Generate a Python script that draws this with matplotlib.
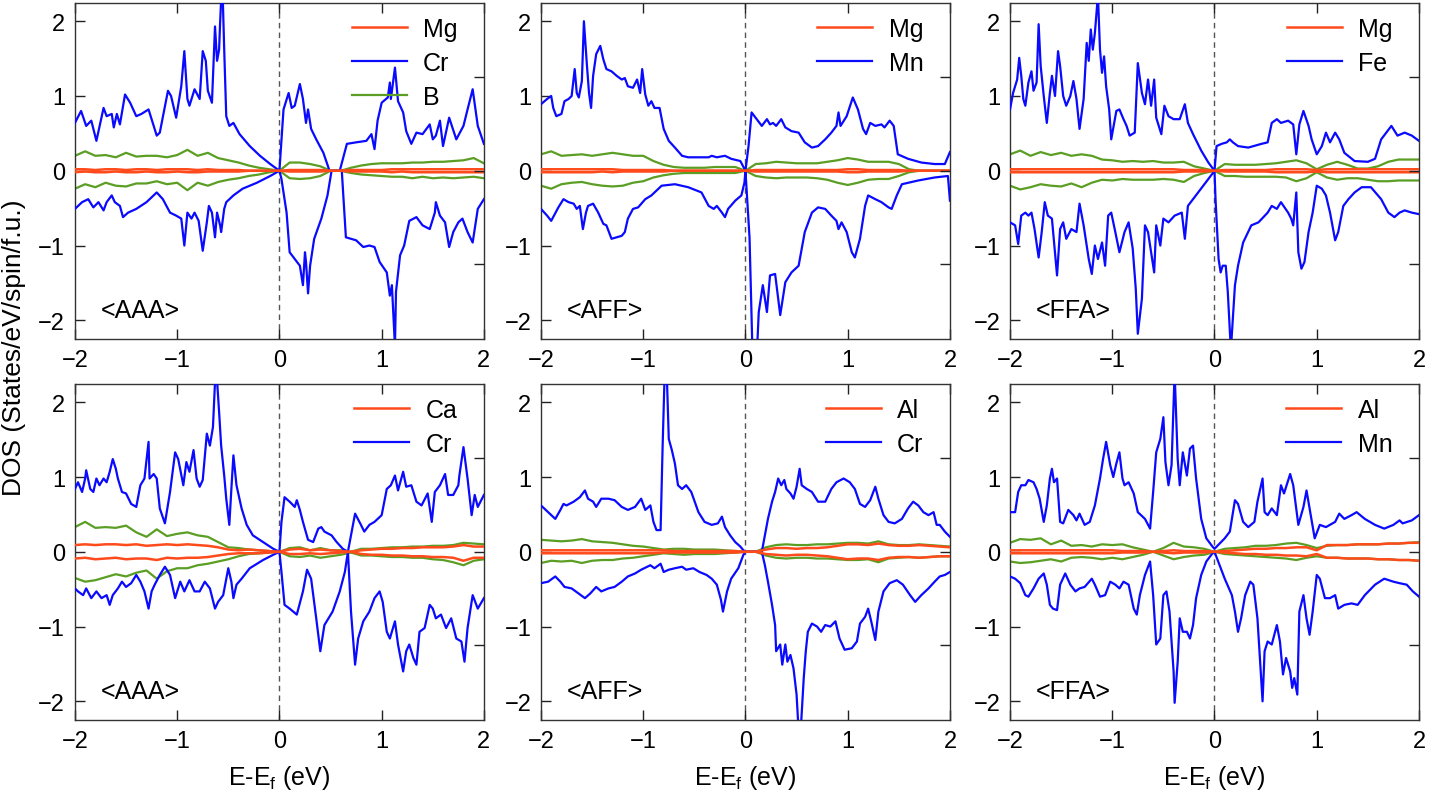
import numpy as np
import matplotlib.pyplot as plt

plt.rcParams['font.family'] = ['Liberation Sans', 'DejaVu Sans']
plt.rcParams['mathtext.fontset'] = 'custom'
plt.rcParams['mathtext.rm'] = 'Liberation Sans'
plt.rcParams['mathtext.it'] = 'Liberation Sans'

RED = '#ff4a1c'
BLUE = '#0a0aff'
GREEN = '#5a9e23'

# shared energy grid for the small (s/p) contributions
e_grid = np.round(np.linspace(-2, 2, 41), 2)

# ---------------- panel 1 : <AAA>, Mg / Cr / B ----------------
p1_up_e = [-2.00, -1.94, -1.89, -1.84, -1.79, -1.72, -1.69, -1.64, -1.62, -1.59,
           -1.56, -1.51, -1.46, -1.40, -1.35, -1.28, -1.20, -1.17, -1.09, -1.06,
           -1.01, -0.96, -0.93, -0.90, -0.88, -0.83, -0.78, -0.75, -0.72, -0.70,
           -0.66, -0.63, -0.61, -0.59, -0.58, -0.56, -0.54, -0.52, -0.49, -0.45,
           -0.39, -0.29, -0.19, -0.09, 0.00,
           0.04, 0.09, 0.12, 0.15, 0.20, 0.23, 0.26, 0.28, 0.31, 0.36,
           0.43, 0.49, 0.59, 0.66, 0.75, 0.85, 0.90, 0.93, 0.96, 1.00,
           1.06, 1.08, 1.09, 1.13, 1.16, 1.21, 1.24, 1.29, 1.34, 1.40,
           1.47, 1.50, 1.53, 1.57, 1.60, 1.66, 1.73, 1.80, 1.84, 1.89,
           1.94, 2.00]
p1_up = [0.64, 0.80, 0.60, 0.67, 0.40, 0.84, 0.73, 0.76, 0.58, 0.76,
         0.62, 1.02, 0.91, 0.73, 0.76, 0.82, 0.47, 0.51, 1.07, 1.00,
         0.71, 1.13, 1.60, 0.96, 0.87, 1.09, 0.96, 1.60, 1.47, 1.07,
         0.91, 1.93, 1.47, 1.62, 1.98, 2.60, 1.62, 0.73, 0.60, 0.64,
         0.49, 0.33, 0.20, 0.09, 0.00,
         0.82, 1.04, 0.84, 0.87, 1.16, 0.96, 0.64, 0.82, 0.56, 0.42,
         0.24, 0.00, 0.00, 0.36, 0.38, 0.40, 0.49, 0.29, 0.67, 0.91,
         0.98, 1.18, 0.96, 1.38, 0.93, 0.78, 0.53, 0.36, 0.51, 0.49,
         0.62, 0.42, 0.47, 0.67, 0.33, 0.71, 0.42, 0.60, 0.82, 1.09,
         0.60, 0.36]
p1_dn_e = [-2.00, -1.93, -1.87, -1.82, -1.77, -1.72, -1.69, -1.64, -1.61, -1.56,
           -1.53, -1.48, -1.40, -1.30, -1.20, -1.14, -1.07, -1.01, -0.96, -0.93,
           -0.90, -0.86, -0.83, -0.79, -0.75, -0.71, -0.69, -0.66, -0.63, -0.61,
           -0.58, -0.57, -0.54, -0.52, -0.45, -0.36, -0.22, -0.09, 0.00,
           0.02, 0.07, 0.10, 0.15, 0.20, 0.23, 0.25, 0.26, 0.28, 0.30,
           0.34, 0.41, 0.47, 0.51, 0.61, 0.65, 0.75, 0.82, 0.88, 0.93,
           0.98, 1.05, 1.08, 1.10, 1.13, 1.14, 1.18, 1.22, 1.27, 1.34,
           1.40, 1.47, 1.52, 1.53, 1.57, 1.62, 1.66, 1.70, 1.75, 1.79,
           1.84, 1.89, 1.94, 2.00]
p1_dn = [-0.51, -0.42, -0.38, -0.49, -0.42, -0.53, -0.42, -0.33, -0.42, -0.47,
         -0.62, -0.56, -0.51, -0.42, -0.29, -0.38, -0.56, -0.60, -0.64, -1.00,
         -0.56, -0.64, -0.56, -0.67, -1.07, -0.69, -0.47, -0.56, -0.89, -0.56,
         -0.73, -0.82, -0.51, -0.42, -0.33, -0.24, -0.16, -0.07, 0.00,
         -0.11, -0.56, -1.09, -1.18, -1.27, -1.53, -1.09, -1.22, -1.64, -1.27,
         -0.91, -0.64, -0.33, 0.00, 0.00, -0.89, -0.93, -1.02, -1.00, -1.02,
         -1.22, -1.36, -1.67, -1.53, -2.35, -1.62, -1.13, -1.00, -0.67, -0.62,
         -0.73, -0.78, -0.56, -0.42, -0.60, -0.69, -1.02, -0.82, -0.69, -0.64,
         -0.82, -0.96, -0.51, -0.38]
p1_b_up = [0.20, 0.26, 0.20, 0.21, 0.18, 0.24, 0.19, 0.20, 0.20, 0.18,
           0.21, 0.28, 0.20, 0.24, 0.17, 0.14, 0.11, 0.07, 0.04, 0.02,
           0.00, 0.11, 0.11, 0.09, 0.06, 0.00, 0.00, 0.04, 0.07, 0.09,
           0.10, 0.10, 0.10, 0.11, 0.11, 0.12, 0.12, 0.13, 0.14, 0.17, 0.10]
p1_b_dn = [-0.24, -0.18, -0.22, -0.16, -0.20, -0.21, -0.17, -0.17, -0.14, -0.18,
           -0.16, -0.26, -0.16, -0.20, -0.15, -0.12, -0.10, -0.07, -0.05, -0.02,
           0.00, -0.10, -0.11, -0.10, -0.07, 0.00, 0.00, -0.03, -0.05, -0.06,
           -0.07, -0.08, -0.08, -0.10, -0.08, -0.10, -0.09, -0.10, -0.09, -0.08, -0.10]
p1_a_up = [0.02, 0.02, 0.01, 0.02, 0.02, 0.01, 0.02, 0.02, 0.01, 0.02,
           0.02, 0.02, 0.01, 0.02, 0.01, 0.01, 0.01, 0.00, 0.00, 0.00,
           0.00, 0.01, 0.01, 0.01, 0.01, 0.00, 0.00, 0.01, 0.01, 0.01,
           0.01, 0.02, 0.02, 0.02, 0.02, 0.02, 0.02, 0.02, 0.02, 0.02, 0.02]
p1_a_dn = [-0.02, -0.01, -0.02, -0.02, -0.01, -0.02, -0.02, -0.01, -0.02, -0.02,
           -0.01, -0.02, -0.02, -0.01, -0.01, -0.01, -0.01, 0.00, 0.00, 0.00,
           0.00, -0.01, -0.01, -0.01, -0.01, 0.00, 0.00, -0.01, -0.01, -0.01,
           -0.01, -0.02, -0.01, -0.02, -0.02, -0.02, -0.02, -0.02, -0.02, -0.02, -0.02]

# ---------------- panel 2 : <AFF>, Mg / Mn ----------------
p2_up_e = [-2.00, -1.94, -1.90, -1.88, -1.85, -1.80, -1.77, -1.73, -1.70, -1.67,
           -1.65, -1.63, -1.60, -1.58, -1.55, -1.53, -1.51, -1.49, -1.46, -1.42,
           -1.39, -1.36, -1.31, -1.26, -1.21, -1.18, -1.15, -1.10, -1.06, -1.03,
           -1.01, -0.98, -0.95, -0.92, -0.89, -0.84, -0.80, -0.75, -0.69, -0.62,
           -0.56, -0.46, -0.36, -0.33, -0.28, -0.20, -0.14, -0.05, 0.00,
           0.03, 0.06, 0.11, 0.16, 0.21, 0.24, 0.27, 0.30, 0.35, 0.39,
           0.45, 0.52, 0.58, 0.65, 0.71, 0.78, 0.84, 0.89, 0.91, 0.93,
           0.99, 1.05, 1.10, 1.15, 1.18, 1.22, 1.27, 1.33, 1.36, 1.41,
           1.45, 1.49, 1.59, 1.72, 1.85, 1.95, 2.00]
p2_up = [0.89, 0.96, 1.00, 0.84, 0.73, 0.76, 0.93, 0.96, 1.00, 1.36,
         1.04, 0.98, 1.20, 2.00, 1.40, 1.04, 0.84, 1.27, 1.56, 1.67,
         1.49, 1.36, 1.33, 1.27, 1.22, 1.24, 1.13, 1.11, 1.22, 1.04,
         1.36, 1.02, 0.87, 0.93, 0.84, 0.84, 0.56, 0.40, 0.31, 0.20,
         0.18, 0.18, 0.18, 0.20, 0.18, 0.20, 0.16, 0.13, 0.00,
         0.33, 0.78, 0.69, 0.60, 0.69, 0.62, 0.64, 0.60, 0.69, 0.58,
         0.53, 0.51, 0.38, 0.31, 0.33, 0.42, 0.51, 0.60, 0.78, 0.60,
         0.73, 0.98, 0.82, 0.56, 0.49, 0.64, 0.60, 0.62, 0.58, 0.67,
         0.60, 0.22, 0.16, 0.11, 0.09, 0.09, 0.25]
p2_dn_e = [-2.00, -1.94, -1.90, -1.83, -1.78, -1.73, -1.68, -1.65, -1.62, -1.59,
           -1.56, -1.54, -1.49, -1.44, -1.39, -1.36, -1.31, -1.26, -1.21, -1.18,
           -1.15, -1.10, -1.05, -0.98, -0.92, -0.82, -0.69, -0.56, -0.43, -0.36,
           -0.31, -0.28, -0.23, -0.20, -0.17, -0.10, -0.04, -0.01, 0.00,
           0.04, 0.07, 0.11, 0.13, 0.17, 0.21, 0.24, 0.29, 0.34, 0.39,
           0.45, 0.52, 0.58, 0.65, 0.71, 0.78, 0.84, 0.89, 0.91, 0.94,
           0.99, 1.04, 1.07, 1.12, 1.17, 1.20, 1.27, 1.33, 1.40, 1.43,
           1.48, 1.53, 1.69, 1.85, 1.98, 2.00]
p2_dn = [-0.51, -0.60, -0.67, -0.49, -0.38, -0.42, -0.44, -0.51, -0.47, -0.78,
         -0.56, -0.47, -0.44, -0.56, -0.71, -0.73, -0.91, -0.89, -0.87, -0.82,
         -0.64, -0.51, -0.49, -0.38, -0.33, -0.20, -0.18, -0.22, -0.29, -0.47,
         -0.51, -0.47, -0.56, -0.62, -0.51, -0.40, -0.33, -0.16, 0.00,
         -0.90, -2.50, -2.50, -1.89, -1.53, -1.89, -1.40, -1.38, -1.93, -1.49,
         -1.36, -1.27, -0.82, -0.56, -0.49, -0.51, -0.60, -0.67, -0.78, -0.69,
         -0.82, -1.09, -1.16, -0.91, -0.47, -0.33, -0.38, -0.42, -0.49, -0.51,
         -0.33, -0.18, -0.13, -0.09, -0.07, -0.40]
p2_b_up = [0.22, 0.26, 0.20, 0.21, 0.22, 0.20, 0.22, 0.24, 0.22, 0.20,
           0.20, 0.13, 0.08, 0.05, 0.04, 0.04, 0.04, 0.05, 0.05, 0.05,
           0.00, 0.09, 0.10, 0.12, 0.11, 0.10, 0.10, 0.10, 0.12, 0.14,
           0.17, 0.15, 0.12, 0.12, 0.12, 0.09, 0.02, 0.00, 0.00, 0.00, 0.00]
p2_b_dn = [-0.20, -0.24, -0.18, -0.16, -0.15, -0.18, -0.20, -0.21, -0.20, -0.16,
           -0.14, -0.09, -0.06, -0.04, -0.03, -0.03, -0.03, -0.03, -0.03, -0.03,
           0.00, -0.07, -0.09, -0.10, -0.09, -0.09, -0.09, -0.10, -0.12, -0.16,
           -0.19, -0.16, -0.12, -0.11, -0.11, -0.07, -0.02, 0.00, 0.00, 0.00, 0.00]
p2_a_up = [0.02, 0.02, 0.02, 0.02, 0.02, 0.02, 0.02, 0.02, 0.01, 0.01,
           0.01, 0.01, 0.01, 0.00, 0.00, 0.00, 0.00, 0.00, 0.00, 0.00,
           0.00, 0.01, 0.01, 0.01, 0.01, 0.01, 0.01, 0.01, 0.01, 0.01,
           0.02, 0.02, 0.01, 0.01, 0.01, 0.01, 0.00, 0.00, 0.00, 0.00, 0.00]
p2_a_dn = [-0.02, -0.02, -0.02, -0.02, -0.02, -0.02, -0.01, -0.02, -0.01, -0.01,
           -0.01, -0.01, -0.01, 0.00, 0.00, 0.00, 0.00, 0.00, 0.00, 0.00,
           0.00, -0.01, -0.01, -0.01, -0.01, -0.01, -0.01, -0.01, -0.01, -0.01,
           -0.02, -0.02, -0.01, -0.01, -0.01, -0.01, 0.00, 0.00, 0.00, 0.00, 0.00]

# ---------------- panel 3 : <FFA>, Mg / Fe ----------------
p3_up_e = [-2.00, -1.97, -1.93, -1.91, -1.89, -1.87, -1.85, -1.82, -1.79, -1.77,
           -1.74, -1.72, -1.70, -1.67, -1.64, -1.61, -1.59, -1.56, -1.53, -1.51,
           -1.48, -1.45, -1.41, -1.38, -1.35, -1.32, -1.28, -1.25, -1.23, -1.21,
           -1.19, -1.17, -1.14, -1.12, -1.10, -1.08, -1.06, -1.03, -1.01, -0.96,
           -0.93, -0.89, -0.86, -0.83, -0.78, -0.75, -0.71, -0.68, -0.65, -0.62,
           -0.59, -0.57, -0.52, -0.49, -0.45, -0.40, -0.34, -0.29, -0.26, -0.21,
           -0.13, -0.06, 0.00,
           0.02, 0.07, 0.12, 0.15, 0.18, 0.23, 0.33, 0.46, 0.52, 0.56,
           0.61, 0.65, 0.72, 0.77, 0.80, 0.83, 0.87, 0.92, 0.95, 1.00,
           1.05, 1.09, 1.13, 1.18, 1.22, 1.27, 1.37, 1.50, 1.57, 1.63,
           1.73, 1.79, 1.86, 1.93, 2.00]
p3_up = [0.82, 1.04, 1.22, 1.51, 1.27, 0.96, 0.87, 1.18, 1.33, 1.07,
         1.18, 1.96, 1.40, 1.00, 0.64, 1.04, 1.27, 1.00, 1.60, 1.40,
         1.00, 0.87, 1.00, 1.20, 0.96, 0.56, 0.96, 1.71, 1.47, 1.89,
         1.62, 1.84, 2.35, 1.62, 1.31, 1.53, 1.13, 0.82, 0.42, 0.80,
         0.82, 0.69, 0.60, 0.47, 0.51, 1.44, 1.04, 0.89, 1.22, 0.87,
         1.22, 0.71, 0.49, 0.87, 0.73, 0.69, 0.69, 0.89, 0.64, 0.49,
         0.27, 0.11, 0.00,
         0.33, 0.36, 0.38, 0.42, 0.38, 0.33, 0.31, 0.36, 0.38, 0.64,
         0.69, 0.64, 0.67, 0.62, 0.22, 0.62, 0.80, 0.60, 0.42, 0.22,
         0.33, 0.51, 0.38, 0.51, 0.42, 0.24, 0.13, 0.12, 0.16, 0.42,
         0.60, 0.47, 0.51, 0.47, 0.40]
p3_dn_e = [-2.00, -1.95, -1.92, -1.89, -1.85, -1.82, -1.79, -1.76, -1.72, -1.69,
           -1.66, -1.63, -1.59, -1.54, -1.51, -1.48, -1.45, -1.40, -1.35, -1.32,
           -1.28, -1.23, -1.20, -1.17, -1.14, -1.10, -1.07, -1.04, -1.01, -0.97,
           -0.93, -0.88, -0.84, -0.80, -0.77, -0.75, -0.71, -0.68, -0.65, -0.62,
           -0.59, -0.57, -0.53, -0.50, -0.45, -0.39, -0.32, -0.29, -0.26, -0.16,
           -0.06, 0.00,
           0.01, 0.04, 0.06, 0.08, 0.11, 0.13, 0.16, 0.20, 0.23, 0.28,
           0.36, 0.43, 0.52, 0.56, 0.61, 0.65, 0.72, 0.75, 0.77, 0.80,
           0.82, 0.85, 0.88, 0.92, 0.96, 1.00, 1.05, 1.09, 1.13, 1.18,
           1.21, 1.26, 1.31, 1.37, 1.44, 1.53, 1.63, 1.70, 1.76, 1.81,
           1.86, 1.93, 2.00]
p3_dn = [-0.69, -0.73, -0.98, -0.60, -0.56, -0.60, -0.56, -0.78, -1.16, -0.82,
         -0.42, -0.60, -0.64, -1.40, -0.78, -0.69, -0.91, -0.78, -0.82, -0.44,
         -0.73, -1.18, -1.38, -1.00, -1.18, -0.96, -1.27, -0.60, -0.56, -0.82,
         -1.09, -0.82, -0.69, -1.04, -1.58, -2.18, -1.71, -0.73, -0.82, -1.09,
         -1.36, -0.73, -1.00, -0.64, -0.69, -0.60, -0.56, -0.91, -0.47, -0.29,
         -0.11, 0.00,
         -0.38, -1.18, -1.36, -1.27, -1.27, -1.62, -2.40, -1.53, -1.27, -0.96,
         -0.73, -0.69, -0.56, -0.47, -0.51, -0.42, -0.56, -0.64, -0.73, -0.29,
         -1.09, -1.31, -1.22, -0.82, -0.56, -0.20, -0.24, -0.33, -0.56, -0.93,
         -0.82, -0.47, -0.38, -0.29, -0.22, -0.22, -0.38, -0.56, -0.62, -0.56,
         -0.53, -0.56, -0.58]
p3_b_up = [0.22, 0.27, 0.20, 0.25, 0.21, 0.24, 0.20, 0.22, 0.20, 0.15,
           0.14, 0.12, 0.13, 0.12, 0.13, 0.11, 0.11, 0.12, 0.06, 0.03,
           0.00, 0.09, 0.08, 0.08, 0.08, 0.09, 0.10, 0.12, 0.14, 0.10,
           0.02, 0.08, 0.12, 0.08, 0.03, 0.03, 0.06, 0.12, 0.15, 0.15, 0.15]
p3_b_dn = [-0.20, -0.25, -0.22, -0.18, -0.20, -0.21, -0.17, -0.22, -0.16, -0.12,
           -0.13, -0.11, -0.12, -0.12, -0.12, -0.11, -0.12, -0.15, -0.07, -0.03,
           0.00, -0.07, -0.07, -0.08, -0.08, -0.08, -0.08, -0.09, -0.14, -0.10,
           -0.02, -0.09, -0.12, -0.10, -0.10, -0.12, -0.14, -0.14, -0.13, -0.13, -0.13]
p3_a_up = [0.02, 0.02, 0.02, 0.02, 0.02, 0.02, 0.02, 0.02, 0.02, 0.02,
           0.02, 0.02, 0.02, 0.02, 0.02, 0.02, 0.02, 0.01, 0.01, 0.01,
           0.00, 0.01, 0.01, 0.01, 0.01, 0.01, 0.02, 0.02, 0.02, 0.02,
           0.01, 0.02, 0.02, 0.02, 0.02, 0.02, 0.02, 0.02, 0.02, 0.02, 0.02]
p3_a_dn = [-0.02, -0.02, -0.02, -0.02, -0.02, -0.02, -0.02, -0.02, -0.02, -0.02,
           -0.02, -0.02, -0.02, -0.02, -0.02, -0.02, -0.02, -0.01, -0.01, -0.01,
           0.00, -0.01, -0.01, -0.01, -0.01, -0.01, -0.02, -0.02, -0.02, -0.02,
           -0.01, -0.02, -0.02, -0.02, -0.02, -0.02, -0.02, -0.02, -0.02, -0.02, -0.02]

# ---------------- panel 4 : <AAA>, Ca / Cr ----------------
p4_up_e = [-2.00, -1.97, -1.93, -1.90, -1.89, -1.85, -1.82, -1.79, -1.76, -1.72,
           -1.69, -1.66, -1.63, -1.60, -1.58, -1.54, -1.50, -1.45, -1.40, -1.36,
           -1.32, -1.28, -1.27, -1.23, -1.20, -1.17, -1.12, -1.07, -1.02, -0.99,
           -0.94, -0.91, -0.88, -0.84, -0.81, -0.78, -0.75, -0.71, -0.68, -0.65,
           -0.63, -0.62, -0.59, -0.57, -0.54, -0.52, -0.49, -0.47, -0.45, -0.42,
           -0.37, -0.32, -0.26, -0.16, -0.06, 0.00,
           0.02, 0.05, 0.10, 0.15, 0.17, 0.20, 0.23, 0.28, 0.33, 0.38,
           0.41, 0.44, 0.51, 0.56, 0.62, 0.67, 0.70, 0.74, 0.79, 0.83,
           0.88, 0.93, 1.00, 1.05, 1.09, 1.13, 1.16, 1.21, 1.24, 1.29,
           1.34, 1.39, 1.45, 1.49, 1.52, 1.57, 1.62, 1.65, 1.70, 1.75,
           1.76, 1.80, 1.84, 1.88, 1.91, 1.94, 2.00]
p4_up = [0.84, 0.93, 0.80, 0.98, 1.09, 0.84, 0.80, 0.98, 0.89, 0.98,
         0.93, 1.07, 1.24, 1.11, 0.98, 0.80, 0.78, 0.64, 0.60, 0.89,
         0.98, 1.47, 0.98, 1.04, 0.98, 0.58, 0.38, 0.80, 1.33, 1.24,
         0.89, 1.20, 1.07, 1.36, 0.98, 0.87, 0.96, 1.58, 1.42, 1.67,
         2.27, 2.50, 1.87, 1.42, 1.02, 0.71, 0.36, 0.84, 1.29, 0.89,
         0.58, 0.36, 0.22, 0.13, 0.04, 0.00,
         0.40, 0.73, 0.67, 0.60, 0.69, 0.56, 0.40, 0.16, 0.13, 0.31,
         0.33, 0.27, 0.22, 0.13, 0.04, 0.00, 0.22, 0.51, 0.38, 0.27,
         0.36, 0.40, 0.49, 0.84, 0.89, 1.02, 0.82, 1.07, 0.87, 0.89,
         0.67, 0.62, 0.78, 0.40, 0.80, 0.89, 1.04, 0.76, 0.76, 0.89,
         1.02, 1.40, 0.98, 0.49, 0.76, 0.60, 0.76]
p4_dn_e = [-2.00, -1.97, -1.92, -1.89, -1.84, -1.79, -1.74, -1.69, -1.66, -1.63,
           -1.58, -1.54, -1.50, -1.45, -1.40, -1.36, -1.32, -1.28, -1.25, -1.22,
           -1.17, -1.12, -1.07, -1.02, -0.97, -0.93, -0.88, -0.83, -0.78, -0.73,
           -0.68, -0.63, -0.60, -0.55, -0.50, -0.47, -0.45, -0.42, -0.37, -0.29,
           -0.16, -0.06, 0.00,
           0.02, 0.05, 0.10, 0.17, 0.23, 0.27, 0.31, 0.36, 0.40, 0.44,
           0.52, 0.59, 0.64, 0.67, 0.70, 0.74, 0.77, 0.82, 0.88, 0.93,
           0.98, 1.01, 1.05, 1.08, 1.13, 1.16, 1.21, 1.24, 1.27, 1.31,
           1.34, 1.37, 1.42, 1.47, 1.50, 1.53, 1.58, 1.63, 1.68, 1.73,
           1.78, 1.81, 1.84, 1.89, 1.94, 2.00]
p4_dn = [-0.49, -0.53, -0.58, -0.49, -0.62, -0.53, -0.62, -0.58, -0.71, -0.58,
         -0.49, -0.40, -0.47, -0.42, -0.31, -0.40, -0.53, -0.76, -0.53, -0.44,
         -0.31, -0.20, -0.31, -0.62, -0.40, -0.53, -0.38, -0.53, -0.53, -0.40,
         -0.49, -0.76, -0.67, -0.58, -0.22, -0.40, -0.62, -0.44, -0.36, -0.22,
         -0.11, -0.04, 0.00,
         -0.27, -0.71, -0.76, -0.84, -0.53, -0.24, -0.36, -0.89, -1.33, -0.98,
         -0.80, -0.53, -0.27, 0.00, -0.80, -1.51, -1.16, -0.93, -0.80, -0.62,
         -0.53, -0.67, -1.07, -1.16, -0.93, -1.24, -1.60, -1.33, -1.24, -1.42,
         -1.51, -1.07, -1.02, -0.71, -0.76, -0.89, -0.84, -1.02, -0.89, -1.16,
         -1.20, -1.47, -1.02, -0.58, -0.76, -0.62]
p4_b_up = [0.33, 0.40, 0.32, 0.33, 0.32, 0.35, 0.26, 0.20, 0.30, 0.21,
           0.24, 0.26, 0.22, 0.20, 0.13, 0.06, 0.05, 0.03, 0.02, 0.01,
           0.00, 0.05, 0.06, 0.02, 0.05, 0.02, 0.02, 0.00, 0.04, 0.04,
           0.05, 0.06, 0.06, 0.07, 0.07, 0.08, 0.08, 0.09, 0.12, 0.11, 0.10]
p4_b_dn = [-0.35, -0.40, -0.38, -0.34, -0.30, -0.33, -0.28, -0.25, -0.36, -0.26,
           -0.22, -0.22, -0.18, -0.16, -0.13, -0.10, -0.06, -0.03, -0.02, -0.01,
           0.00, -0.06, -0.07, -0.05, -0.08, -0.06, -0.04, -0.01, -0.05, -0.05,
           -0.06, -0.07, -0.07, -0.08, -0.08, -0.10, -0.11, -0.14, -0.18, -0.12, -0.10]
p4_a_up = [0.09, 0.10, 0.09, 0.10, 0.10, 0.09, 0.10, 0.08, 0.09, 0.10,
           0.09, 0.10, 0.09, 0.08, 0.06, 0.03, 0.02, 0.03, 0.02, 0.01,
           0.00, 0.03, 0.04, 0.02, 0.03, 0.02, 0.01, 0.00, 0.02, 0.03,
           0.04, 0.04, 0.05, 0.05, 0.06, 0.06, 0.06, 0.07, 0.09, 0.07, 0.07]
p4_a_dn = [-0.09, -0.08, -0.10, -0.09, -0.08, -0.10, -0.09, -0.09, -0.11, -0.08,
           -0.09, -0.08, -0.08, -0.07, -0.05, -0.03, -0.02, -0.02, -0.02, -0.01,
           0.00, -0.03, -0.03, -0.02, -0.03, -0.02, -0.01, 0.00, -0.03, -0.04,
           -0.04, -0.05, -0.05, -0.06, -0.06, -0.07, -0.07, -0.08, -0.12, -0.08, -0.08]

# ---------------- panel 5 : <AFF>, Al / Cr ----------------
p5_up_e = [-2.00, -1.93, -1.86, -1.81, -1.78, -1.75, -1.68, -1.62, -1.57, -1.54,
           -1.49, -1.46, -1.41, -1.34, -1.28, -1.21, -1.15, -1.08, -1.02, -0.98,
           -0.93, -0.90, -0.87, -0.83, -0.81, -0.79, -0.77, -0.75, -0.72, -0.69,
           -0.66, -0.62, -0.58, -0.53, -0.46, -0.40, -0.33, -0.27, -0.23, -0.20,
           -0.15, -0.10, -0.05, -0.02, 0.00,
           0.16, 0.19, 0.22, 0.26, 0.29, 0.32, 0.35, 0.38, 0.40, 0.44,
           0.47, 0.50, 0.53, 0.55, 0.60, 0.65, 0.71, 0.78, 0.84, 0.89,
           0.96, 1.02, 1.07, 1.12, 1.17, 1.22, 1.27, 1.30, 1.35, 1.40,
           1.46, 1.53, 1.59, 1.64, 1.69, 1.74, 1.79, 1.84, 1.87, 1.90,
           1.95, 2.00]
p5_up = [0.62, 0.53, 0.44, 0.56, 0.64, 0.62, 0.67, 0.73, 0.82, 0.71,
         0.67, 0.60, 0.71, 0.71, 0.69, 0.60, 0.56, 0.60, 0.71, 0.56,
         0.62, 0.40, 0.29, 0.29, 1.42, 2.40, 2.40, 1.51, 1.36, 1.18,
         0.89, 0.84, 0.89, 0.80, 0.53, 0.40, 0.36, 0.38, 0.47, 0.33,
         0.22, 0.13, 0.07, 0.02, 0.00,
         0.00, 0.22, 0.44, 0.67, 0.80, 0.98, 0.89, 0.96, 0.84, 0.78,
         0.71, 0.87, 1.11, 0.89, 0.84, 0.80, 0.67, 0.67, 0.84, 0.93,
         0.98, 0.93, 0.84, 0.64, 0.60, 0.69, 0.87, 0.71, 0.49, 0.40,
         0.38, 0.44, 0.58, 0.67, 0.62, 0.53, 0.49, 0.53, 0.36, 0.36,
         0.27, 0.20]
p5_dn_e = [-2.00, -1.93, -1.86, -1.81, -1.77, -1.70, -1.63, -1.57, -1.52, -1.46,
           -1.41, -1.34, -1.28, -1.21, -1.15, -1.08, -1.02, -0.93, -0.89, -0.83,
           -0.80, -0.75, -0.69, -0.62, -0.58, -0.51, -0.45, -0.38, -0.33, -0.28,
           -0.24, -0.22, -0.18, -0.14, -0.07, -0.02, 0.00,
           0.16, 0.19, 0.22, 0.26, 0.29, 0.30, 0.34, 0.36, 0.39, 0.41,
           0.44, 0.47, 0.50, 0.52, 0.54, 0.57, 0.59, 0.61, 0.65, 0.70,
           0.74, 0.78, 0.83, 0.88, 0.92, 0.97, 1.04, 1.09, 1.12, 1.17,
           1.20, 1.23, 1.27, 1.30, 1.35, 1.41, 1.48, 1.54, 1.61, 1.66,
           1.72, 1.79, 1.85, 1.90, 1.95, 2.00]
p5_dn = [-0.42, -0.40, -0.33, -0.40, -0.47, -0.49, -0.56, -0.62, -0.56, -0.47,
         -0.53, -0.49, -0.47, -0.40, -0.33, -0.29, -0.24, -0.18, -0.22, -0.16,
         -0.27, -0.24, -0.22, -0.20, -0.24, -0.22, -0.27, -0.31, -0.36, -0.44,
         -0.64, -0.80, -0.53, -0.36, -0.22, -0.04, 0.00,
         0.00, -0.18, -0.40, -0.71, -0.98, -1.33, -1.24, -1.51, -1.24, -1.47,
         -1.38, -1.56, -1.91, -2.40, -2.40, -1.69, -1.33, -1.07, -0.96, -1.00,
         -1.07, -0.98, -1.00, -0.93, -1.16, -1.31, -1.29, -1.20, -0.96, -0.87,
         -0.76, -0.93, -1.18, -0.80, -0.53, -0.42, -0.38, -0.44, -0.58, -0.67,
         -0.58, -0.49, -0.40, -0.33, -0.31, -0.27]
p5_b_up = [0.16, 0.15, 0.14, 0.15, 0.17, 0.14, 0.13, 0.12, 0.10, 0.08,
           0.07, 0.05, 0.03, 0.04, 0.04, 0.03, 0.03, 0.03, 0.02, 0.01,
           0.00, 0.00, 0.06, 0.09, 0.10, 0.09, 0.09, 0.10, 0.10, 0.11,
           0.12, 0.12, 0.11, 0.14, 0.10, 0.09, 0.09, 0.10, 0.09, 0.08, 0.07]
p5_b_dn = [-0.15, -0.12, -0.13, -0.12, -0.15, -0.12, -0.11, -0.11, -0.09, -0.08,
           -0.06, -0.04, -0.02, -0.03, -0.04, -0.03, -0.03, -0.03, -0.02, -0.01,
           0.00, 0.00, -0.05, -0.08, -0.09, -0.08, -0.08, -0.09, -0.09, -0.10,
           -0.11, -0.11, -0.10, -0.14, -0.09, -0.08, -0.07, -0.08, -0.07, -0.06, -0.06]
p5_a_up = [0.02, 0.02, 0.02, 0.02, 0.02, 0.02, 0.02, 0.02, 0.02, 0.02,
           0.02, 0.02, 0.02, 0.01, 0.01, 0.01, 0.01, 0.01, 0.01, 0.01,
           0.00, 0.00, 0.03, 0.05, 0.05, 0.04, 0.05, 0.05, 0.06, 0.08,
           0.10, 0.10, 0.09, 0.11, 0.09, 0.08, 0.08, 0.09, 0.08, 0.07, 0.06]
p5_a_dn = [-0.02, -0.02, -0.02, -0.02, -0.02, -0.02, -0.02, -0.02, -0.02, -0.02,
           -0.02, -0.02, -0.01, -0.01, -0.01, -0.01, -0.01, -0.01, -0.01, -0.01,
           0.00, 0.00, -0.03, -0.04, -0.05, -0.04, -0.04, -0.05, -0.06, -0.08,
           -0.10, -0.09, -0.09, -0.11, -0.08, -0.07, -0.07, -0.08, -0.07, -0.06, -0.06]

# ---------------- panel 6 : <FFA>, Al / Mn ----------------
p6_up_e = [-2.00, -1.95, -1.92, -1.89, -1.85, -1.82, -1.77, -1.74, -1.71, -1.67,
           -1.64, -1.61, -1.59, -1.57, -1.54, -1.51, -1.48, -1.43, -1.38, -1.35,
           -1.32, -1.27, -1.22, -1.17, -1.12, -1.09, -1.06, -1.02, -0.99, -0.96,
           -0.93, -0.90, -0.88, -0.84, -0.79, -0.75, -0.68, -0.63, -0.60, -0.57,
           -0.53, -0.50, -0.48, -0.45, -0.42, -0.39, -0.36, -0.34, -0.31, -0.27,
           -0.24, -0.21, -0.18, -0.13, -0.08, -0.02, 0.00,
           0.05, 0.10, 0.15, 0.20, 0.23, 0.28, 0.33, 0.39, 0.42, 0.47,
           0.49, 0.52, 0.56, 0.61, 0.65, 0.68, 0.74, 0.77, 0.82, 0.87,
           0.90, 0.93, 0.98, 1.03, 1.09, 1.18, 1.22, 1.27, 1.34, 1.39,
           1.47, 1.57, 1.66, 1.75, 1.81, 1.84, 1.93, 2.00]
p6_up = [0.53, 0.53, 0.80, 0.89, 0.89, 0.96, 0.93, 0.84, 0.71, 0.40,
         0.62, 0.98, 1.11, 0.93, 0.98, 0.40, 0.38, 0.56, 0.49, 0.42,
         0.51, 0.36, 0.40, 0.62, 0.98, 1.24, 1.47, 1.16, 1.00, 1.18,
         1.33, 0.98, 0.89, 0.93, 0.78, 0.53, 0.44, 0.31, 0.80, 1.33,
         1.51, 1.80, 1.20, 0.89, 1.16, 2.40, 1.24, 0.89, 1.33, 1.02,
         1.38, 1.42, 0.98, 0.44, 0.18, 0.07, 0.04,
         0.11, 0.18, 0.27, 0.69, 0.64, 0.40, 0.33, 0.40, 0.67, 0.98,
         0.53, 0.49, 0.58, 0.49, 0.89, 0.78, 1.04, 0.89, 0.36, 0.60,
         0.82, 0.58, 0.18, 0.36, 0.33, 0.40, 0.51, 0.44, 0.49, 0.53,
         0.44, 0.36, 0.31, 0.36, 0.42, 0.38, 0.42, 0.49]
p6_dn_e = [-2.00, -1.95, -1.90, -1.85, -1.82, -1.77, -1.72, -1.67, -1.64, -1.61,
           -1.58, -1.54, -1.51, -1.46, -1.41, -1.36, -1.32, -1.27, -1.20, -1.17,
           -1.12, -1.07, -1.02, -0.97, -0.93, -0.89, -0.84, -0.79, -0.76, -0.73,
           -0.68, -0.63, -0.60, -0.57, -0.53, -0.50, -0.47, -0.44, -0.40, -0.39,
           -0.36, -0.34, -0.31, -0.27, -0.24, -0.21, -0.18, -0.13, -0.08, -0.02,
           0.00,
           0.05, 0.10, 0.17, 0.20, 0.23, 0.26, 0.30, 0.35, 0.38, 0.42,
           0.47, 0.49, 0.52, 0.56, 0.61, 0.64, 0.67, 0.70, 0.74, 0.76,
           0.78, 0.81, 0.83, 0.87, 0.90, 0.93, 0.96, 1.00, 1.03, 1.08,
           1.13, 1.18, 1.21, 1.27, 1.34, 1.40, 1.47, 1.57, 1.66, 1.75,
           1.81, 1.88, 1.94, 2.00]
p6_dn = [-0.33, -0.36, -0.42, -0.58, -0.60, -0.49, -0.36, -0.29, -0.44, -0.71,
         -0.76, -0.78, -0.44, -0.29, -0.44, -0.53, -0.49, -0.47, -0.36, -0.44,
         -0.60, -0.58, -0.40, -0.44, -0.49, -0.40, -0.44, -0.76, -0.84, -0.58,
         -0.31, -0.13, -0.58, -1.24, -1.16, -0.58, -0.53, -0.80, -1.60, -2.02,
         -1.47, -0.89, -1.07, -1.07, -1.16, -0.98, -0.62, -0.31, -0.13, -0.02,
         0.00,
         -0.18, -0.36, -0.58, -0.80, -1.07, -0.89, -0.58, -0.40, -0.44, -0.89,
         -2.00, -1.33, -1.20, -1.24, -0.98, -1.20, -1.64, -1.42, -1.60, -1.82,
         -1.69, -1.91, -0.80, -0.58, -0.89, -1.11, -0.80, -0.31, -0.36, -0.62,
         -0.62, -0.58, -0.76, -0.71, -0.69, -0.71, -0.58, -0.44, -0.36, -0.40,
         -0.42, -0.44, -0.53, -0.60]
p6_b_up = [0.12, 0.17, 0.16, 0.18, 0.10, 0.15, 0.08, 0.09, 0.07, 0.10,
           0.09, 0.10, 0.06, 0.03, 0.00, 0.05, 0.12, 0.07, 0.06, 0.04,
           0.00, 0.04, 0.05, 0.06, 0.08, 0.08, 0.09, 0.11, 0.12, 0.09,
           0.05, 0.08, 0.09, 0.09, 0.10, 0.10, 0.10, 0.11, 0.11, 0.12, 0.13]
p6_b_dn = [-0.13, -0.15, -0.14, -0.12, -0.10, -0.13, -0.08, -0.07, -0.08, -0.10,
           -0.08, -0.10, -0.07, -0.04, 0.00, -0.05, -0.10, -0.07, -0.05, -0.04,
           0.00, -0.03, -0.04, -0.05, -0.06, -0.07, -0.08, -0.09, -0.11, -0.08,
           -0.06, -0.08, -0.08, -0.09, -0.09, -0.09, -0.10, -0.10, -0.11, -0.11, -0.12]
p6_a_up = [0.02, 0.02, 0.02, 0.02, 0.02, 0.02, 0.02, 0.02, 0.02, 0.02,
           0.02, 0.01, 0.01, 0.01, 0.00, 0.01, 0.02, 0.01, 0.01, 0.01,
           0.00, 0.01, 0.02, 0.03, 0.04, 0.04, 0.05, 0.05, 0.06, 0.06,
           0.02, 0.09, 0.09, 0.09, 0.10, 0.10, 0.10, 0.11, 0.11, 0.12, 0.12]
p6_a_dn = [-0.02, -0.02, -0.02, -0.02, -0.02, -0.02, -0.02, -0.02, -0.02, -0.02,
           -0.02, -0.01, -0.01, -0.01, 0.00, -0.01, -0.02, -0.01, -0.01, -0.01,
           0.00, -0.01, -0.02, -0.03, -0.03, -0.04, -0.04, -0.05, -0.05, -0.06,
           -0.03, -0.08, -0.08, -0.09, -0.09, -0.09, -0.10, -0.10, -0.11, -0.11, -0.12]

panels = [
    ('<AAA>', 'Mg', 'Cr', p1_up_e, p1_up, p1_dn_e, p1_dn, p1_b_up, p1_b_dn, p1_a_up, p1_a_dn, True),
    ('<AFF>', 'Mg', 'Mn', p2_up_e, p2_up, p2_dn_e, p2_dn, p2_b_up, p2_b_dn, p2_a_up, p2_a_dn, False),
    ('<FFA>', 'Mg', 'Fe', p3_up_e, p3_up, p3_dn_e, p3_dn, p3_b_up, p3_b_dn, p3_a_up, p3_a_dn, False),
    ('<AAA>', 'Ca', 'Cr', p4_up_e, p4_up, p4_dn_e, p4_dn, p4_b_up, p4_b_dn, p4_a_up, p4_a_dn, False),
    ('<AFF>', 'Al', 'Cr', p5_up_e, p5_up, p5_dn_e, p5_dn, p5_b_up, p5_b_dn, p5_a_up, p5_a_dn, False),
    ('<FFA>', 'Al', 'Mn', p6_up_e, p6_up, p6_dn_e, p6_dn, p6_b_up, p6_b_dn, p6_a_up, p6_a_dn, False),
]

fig = plt.figure(figsize=(14.3, 8.03), dpi=100)
lefts = [0.0524, 0.3783, 0.7063]
bottoms = [0.5766, 0.1021]
w, h = 0.286, 0.419

for i, (tag, a_name, tm_name, ue, uv, de, dv, bu, bd, au, ad, show_b) in enumerate(panels):
    row, col = divmod(i, 3)
    ax = fig.add_axes([lefts[col], bottoms[row], w, h])
    ax.axvline(0, color='#555555', lw=1.0, ls=(0, (4, 3)), zorder=1)

    ax.plot(e_grid, bu, color=GREEN, lw=1.6, zorder=2, label='B' if show_b else None)
    ax.plot(e_grid, bd, color=GREEN, lw=1.6, zorder=2)
    ax.plot(ue, uv, color=BLUE, lw=1.6, zorder=3, label=tm_name)
    ax.plot(de, dv, color=BLUE, lw=1.6, zorder=3)
    ax.plot(e_grid, au, color=RED, lw=1.8, zorder=4, label=a_name)
    ax.plot(e_grid, ad, color=RED, lw=1.8, zorder=4)

    ax.set_xlim(-2, 2)
    ax.set_ylim(-2.25, 2.25)
    ax.set_xticks([-2, -1, 0, 1, 2])
    ax.set_yticks([-2, -1, 0, 1, 2])
    ax.tick_params(direction='in', length=7, width=1, labelsize=17, pad=7,
                   top=True, colors='#222222', labelcolor='black')
    for sp in ax.spines.values():
        sp.set_linewidth(1.0)
        sp.set_color('#333333')

    # second spin scale on the right
    ax2 = ax.twinx()
    ax2.set_ylim(-2.25, 2.25)
    ax2.set_yticks([-1.25, 0, 1.25])
    ax2.set_yticklabels([])
    ax2.tick_params(direction='in', length=7, width=1, colors='#222222')
    for sp in ax2.spines.values():
        sp.set_visible(False)

    ax.text(-1.75, -1.86, tag, fontsize=18, ha='left', va='center')

    handles, labels = ax.get_legend_handles_labels()
    order = [labels.index(a_name), labels.index(tm_name)]
    if show_b:
        order.append(labels.index('B'))
    ax.legend([handles[k] for k in order], [labels[k] for k in order],
              loc='upper right', bbox_to_anchor=(0.935, 0.958), frameon=False,
              fontsize=18, handlelength=2.2, handletextpad=0.65,
              labelspacing=0.4, borderpad=0, borderaxespad=0)

    if row == 1:
        ax.set_xlabel(r'E-E$_\mathregular{f}$ (eV)', fontsize=18, labelpad=8)

fig.text(0.0098, 0.567, 'DOS (States/eV/spin/f.u.)', rotation=90,
         ha='center', va='center', fontsize=19)

fig.savefig('out.png', dpi=100)
